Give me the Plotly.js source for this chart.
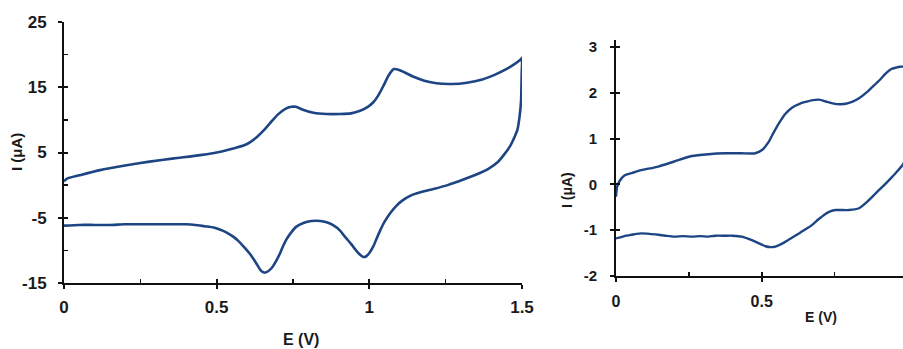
<!DOCTYPE html>
<html>
<head>
<meta charset="utf-8">
<script src="https://cdn.plot.ly/plotly-3.0.1.min.js"></script>
<style>html,body{margin:0;padding:0;background:#fff;}#chart{width:903px;height:349px;}</style>
</head>
<body>
<div id="chart"></div>
<script>
// Left CV (full scan 0 -> 1.5 V -> 0)
const leftE = [0.000, 0.010, 0.050, 0.118, 0.200, 0.280, 0.360, 0.446, 0.520, 0.554, 0.590, 0.610, 0.630, 0.650, 0.675, 0.700, 0.725, 0.745, 0.760, 0.780, 0.817, 0.860, 0.905, 0.940, 0.970, 0.995, 1.013, 1.030, 1.046, 1.063, 1.080, 1.100, 1.145, 1.180, 1.220, 1.270, 1.320, 1.370, 1.410, 1.450, 1.480, 1.497, 1.500,
               1.499, 1.497, 1.492, 1.485, 1.470, 1.460, 1.440, 1.420, 1.390, 1.364, 1.310, 1.256, 1.210, 1.167, 1.135, 1.110, 1.090, 1.070, 1.050, 1.036, 1.022, 1.013, 1.000, 0.990, 0.980, 0.968, 0.955, 0.940, 0.920, 0.905, 0.880, 0.860, 0.840, 0.810, 0.784, 0.760, 0.745, 0.730, 0.718, 0.708, 0.695, 0.680, 0.665, 0.655, 0.645, 0.630, 0.610, 0.590, 0.570, 0.554, 0.530, 0.510, 0.490, 0.460, 0.430, 0.400, 0.350, 0.300, 0.250, 0.200, 0.150, 0.100, 0.050, 0.000];
const leftI = [0.6, 1.0, 1.5, 2.3, 3.0, 3.6, 4.1, 4.6, 5.2, 5.6, 6.1, 6.6, 7.3, 8.2, 9.5, 10.8, 11.7, 12.0, 12.0, 11.6, 11.1, 10.9, 10.9, 11.0, 11.4, 12.0, 12.7, 13.8, 15.2, 16.8, 17.8, 17.6, 16.6, 16.0, 15.6, 15.5, 15.7, 16.2, 16.9, 17.8, 18.7, 19.3, 19.5,
               17.0, 13.0, 10.5, 8.5, 6.8, 5.9, 4.6, 3.5, 2.5, 1.9, 0.9, 0.0, -0.6, -1.1, -1.6, -2.3, -3.1, -4.2, -5.6, -6.9, -8.4, -9.4, -10.4, -10.9, -11.0, -10.6, -9.9, -9.0, -7.9, -7.0, -6.1, -5.7, -5.5, -5.5, -5.8, -6.4, -7.2, -8.2, -9.3, -10.4, -11.6, -12.7, -13.3, -13.4, -13.1, -12.0, -10.6, -9.5, -8.5, -7.9, -7.2, -6.8, -6.5, -6.3, -6.1, -6.0, -6.0, -6.0, -6.0, -6.0, -6.1, -6.1, -6.1, -6.2];

// Right CV (low-current, partially shown)
const rightFwdE = [0.000, 0.004, 0.013, 0.030, 0.060, 0.087, 0.145, 0.200, 0.260, 0.317, 0.375, 0.430, 0.478, 0.501, 0.524, 0.540, 0.559, 0.580, 0.605, 0.630, 0.650, 0.675, 0.697, 0.720, 0.743, 0.770, 0.789, 0.810, 0.834, 0.860, 0.880, 0.905, 0.927, 0.945, 0.961, 0.975, 0.990];
const rightFwdI = [-0.27, -0.05, 0.08, 0.20, 0.26, 0.31, 0.39, 0.50, 0.62, 0.66, 0.68, 0.68, 0.68, 0.75, 0.93, 1.12, 1.33, 1.53, 1.68, 1.76, 1.80, 1.84, 1.85, 1.81, 1.77, 1.75, 1.76, 1.80, 1.88, 2.01, 2.13, 2.28, 2.43, 2.52, 2.55, 2.57, 2.57];
const rightRevE = [0.990, 0.983, 0.960, 0.938, 0.915, 0.892, 0.865, 0.834, 0.800, 0.770, 0.754, 0.735, 0.715, 0.695, 0.670, 0.645, 0.628, 0.605, 0.582, 0.565, 0.547, 0.530, 0.513, 0.495, 0.478, 0.455, 0.432, 0.400, 0.375, 0.340, 0.317, 0.290, 0.260, 0.230, 0.200, 0.170, 0.145, 0.115, 0.087, 0.070, 0.053, 0.035, 0.018, 0.000];
const rightRevI = [0.50, 0.42, 0.25, 0.10, -0.05, -0.19, -0.36, -0.52, -0.56, -0.56, -0.56, -0.59, -0.66, -0.76, -0.90, -1.00, -1.07, -1.16, -1.25, -1.31, -1.36, -1.37, -1.35, -1.30, -1.25, -1.19, -1.14, -1.12, -1.12, -1.12, -1.14, -1.13, -1.14, -1.13, -1.14, -1.12, -1.10, -1.08, -1.07, -1.08, -1.10, -1.12, -1.15, -1.18];

const leftTicksY = [-15, -5, 5, 15, 25];
const leftTickTextY = ['-15', '-5', '5', '15', '25'];
const leftMinorY = [-10, 0, 10, 20];
const leftTicksX = [0, 0.5, 1, 1.5];
const leftTickTextX = ['0', '0.5', '1', '1.5'];
const leftMinorX = [0.25, 0.75, 1.25];
const rightTicksY = [-2, -1, 0, 1, 2, 3];
const rightTickTextY = ['-2', '-1', '0', '1', '2', '3'];
const rightTicksX = [0, 0.5];
const rightTickTextX = ['0', '0.5'];
const rightMinorX = [0.25, 0.75];

const lineColor = '#1d4583';
const FONT = 'Liberation Sans, Arial, sans-serif';
const AX = '#111';

const W = 903, H = 349;
const px = v => v / W;
const py = v => 1 - v / H;

const LX = [px(64), px(522)], LY = [py(283), py(22)];
const RX = [px(616), 1], RY = [py(276), py(40)];
const LXR = [0, 1.5], LYR = [-15, 25], RXR = [0, 0.985], RYR = [-2, 3.153];

const ln = w => ({color: lineColor, width: w, shape: 'spline', smoothing: 0.6});
const traces = [
  {x: leftE, y: leftI, xaxis: 'x', yaxis: 'y', mode: 'lines', line: ln(2.6), hoverinfo: 'skip'},
  {x: rightFwdE, y: rightFwdI, xaxis: 'x2', yaxis: 'y2', mode: 'lines', line: ln(2.4), hoverinfo: 'skip'},
  {x: rightRevE, y: rightRevI, xaxis: 'x2', yaxis: 'y2', mode: 'lines', line: ln(2.4), hoverinfo: 'skip'}
];

function axisBase(extra) {
  return Object.assign({
    showgrid: false, zeroline: false, showline: true, linecolor: AX, linewidth: 2,
    ticks: 'outside', ticklen: 4, tickwidth: 2, tickcolor: AX, tickmode: 'array',
    fixedrange: true
  }, extra);
}
// overlay axes that draw the inner half of the crossing major ticks
function innerTicks(extra) {
  return Object.assign({
    showgrid: false, zeroline: false, showline: false, showticklabels: false,
    ticks: 'inside', ticklen: 4, tickwidth: 2, tickcolor: AX, tickmode: 'array', fixedrange: true
  }, extra);
}
const tf = s => ({family: FONT, size: s, color: '#1a1a1a', weight: 'bold'});

const layout = {
  width: W, height: H,
  margin: {l: 0, r: 0, t: 0, b: 0},
  paper_bgcolor: '#fff', plot_bgcolor: 'rgba(0,0,0,0)',
  showlegend: false,
  xaxis: axisBase({domain: LX, range: LXR, anchor: 'y', tickvals: leftTicksX, ticktext: leftTickTextX, ticklabelstandoff: 4, tickfont: tf(17),
    minor: {ticks: 'inside', tickvals: leftMinorX, ticklen: 4, tickwidth: 1.5, tickcolor: AX}}),
  yaxis: axisBase({domain: LY, range: LYR, anchor: 'x', tickvals: leftTicksY, ticktext: leftTickTextY, ticklabelstandoff: 8, tickfont: tf(17),
    minor: {ticks: 'inside', tickvals: leftMinorY, ticklen: 4, tickwidth: 1.5, tickcolor: AX}}),
  xaxis3: innerTicks({overlaying: 'x', anchor: 'y', range: LXR, tickvals: leftTicksX}),
  yaxis3: innerTicks({overlaying: 'y', anchor: 'x', range: LYR, tickvals: leftTicksY}),
  xaxis2: axisBase({domain: RX, range: RXR, anchor: 'y2', tickvals: rightTicksX, ticktext: rightTickTextX, ticklabelstandoff: 6, tickfont: tf(16),
    minor: {ticks: 'inside', tickvals: rightMinorX, ticklen: 4, tickwidth: 1.5, tickcolor: AX}}),
  yaxis2: axisBase({domain: RY, range: RYR, anchor: 'x2', tickvals: rightTicksY, ticktext: rightTickTextY, ticklabelstandoff: 10, tickfont: tf(15)}),
  xaxis4: innerTicks({overlaying: 'x2', anchor: 'y2', range: RXR, tickvals: rightTicksX}),
  yaxis4: innerTicks({overlaying: 'y2', anchor: 'x2', range: RYR, tickvals: rightTicksY}),
  annotations: [
    {text: 'E (V)', xref: 'paper', yref: 'paper', x: px(301), y: py(339), showarrow: false, xanchor: 'center', yanchor: 'middle', font: tf(16)},
    {text: 'I (μA)', xref: 'paper', yref: 'paper', x: px(16), y: py(152), showarrow: false, textangle: -90, xanchor: 'center', yanchor: 'middle', font: tf(15)},
    {text: 'E (V)', xref: 'paper', yref: 'paper', x: px(821), y: py(317), showarrow: false, xanchor: 'center', yanchor: 'middle', font: tf(14)},
    {text: 'I (μA)', xref: 'paper', yref: 'paper', x: px(567), y: py(190), showarrow: false, textangle: -90, xanchor: 'center', yanchor: 'middle', font: tf(14)}
  ]
};

// invisible traces so the overlay tick axes are drawn
traces.push({x: [null], y: [null], xaxis: 'x3', yaxis: 'y3', mode: 'lines', hoverinfo: 'skip'});
traces.push({x: [null], y: [null], xaxis: 'x4', yaxis: 'y4', mode: 'lines', hoverinfo: 'skip'});

Plotly.newPlot('chart', traces, layout, {staticPlot: true, displayModeBar: false});
</script>
</body>
</html>
